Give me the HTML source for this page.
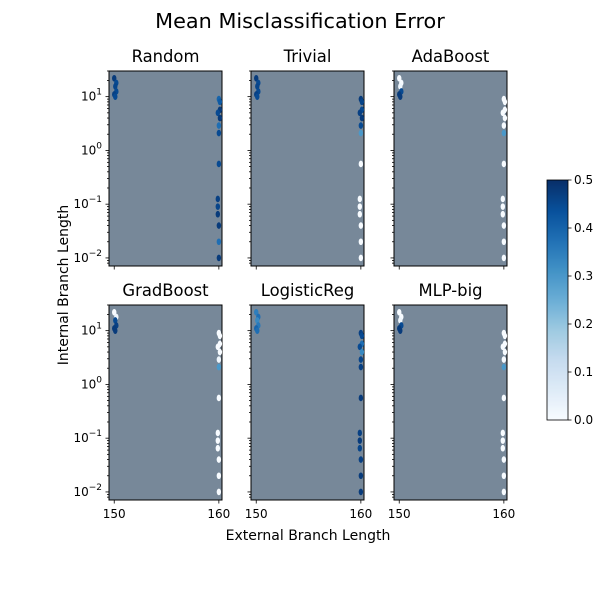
<!DOCTYPE html>
<html><head><meta charset="utf-8"><style>
body{margin:0;background:#fff;font-family:"Liberation Sans","DejaVu Sans",sans-serif}
svg text{font-family:"DejaVu Sans","Liberation Sans",sans-serif}
</style></head><body>
<svg id="c" width="600" height="600" xmlns="http://www.w3.org/2000/svg">
<text x="300" y="28" font-size="20.8" text-anchor="middle">Mean Misclassification Error</text>
<text x="308" y="540" font-size="14" text-anchor="middle">External Branch Length</text>
<text transform="translate(68,285) rotate(-90)" font-size="14" text-anchor="middle">Internal Branch Length</text>
<g id="panels"></g>
<g id="cbar"></g>
</svg>
<script>
const titles=["Random","Trivial","AdaBoost","GradBoost","LogisticReg","MLP-big"];
const leftX=[150.0,150.2,150.1,150.2,150.0,150.1];
const leftY=[22,18,15.5,12.5,11,10];
const rightX=[160.0,160.1,160.1,159.9,160.1,160.0,160.0,160.0,159.9,159.9,159.9,160.0,160.0,160.0];
const rightY=[9,8,5.7,5,4,2.9,2.1,0.56,0.125,0.09,0.065,0.04,0.02,0.01];
const errRandom=[0.48,0.45,0.46,0.45,0.47,0.45,0.4,0.42,0.48,0.45,0.48,0.38,0.45,0.45,0.47,0.46,0.48,0.48,0.38,0.48,0.4,0.25,0.48,0.48];
const errTrivial=[0.48,0.45,0.46,0.45,0.47,0.45,0.48,0.46,0.45,0.47,0.48,0.45,0.3,0,0,0,0,0,0,0];
const errAda=[0,0,0.02,0.45,0.48,0.48,0,0,0,0,0,0,0.3,0,0,0,0,0,0,0];
const errGrad=[0,0.02,0.45,0.47,0.48,0.48,0,0,0,0,0,0.02,0.3,0,0,0,0,0,0,0];
const errLog=[0.35,0.38,0.33,0.36,0.4,0.38,0.47,0.45,0.38,0.45,0.33,0.46,0.47,0.48,0.47,0.48,0.46,0.47,0.48,0.48];
const errMlp=[0,0,0.02,0.45,0.48,0.48,0,0,0,0,0,0,0.3,0,0,0,0,0,0,0];
const errs=[errRandom,errTrivial,errAda,errGrad,errLog,errMlp];
const yTicks=[1,0,-1,-2];
const xTicks=[150,160];
const cbTicks=[0,0.1,0.2,0.3,0.4,0.5];
const NS="http://www.w3.org/2000/svg";
const stops=["#f7fbff","#deebf7","#c6dbef","#9ecae1","#6baed6","#4292c6","#2171b5","#08519c","#08306b"];
function hex(h){return[1,3,5].map(i=>parseInt(h.substr(i,2),16));}
function blues(v){let t=Math.max(0,Math.min(1,v/0.5))*8;let i=Math.min(7,Math.floor(t)),f=t-i;let a=hex(stops[i]),b=hex(stops[i+1]);return"rgb("+a.map((c,k)=>Math.round(c+(b[k]-c)*f)).join(",")+")";}
function mk(tag,at,par){const e=document.createElementNS(NS,tag);for(const k in at)e.setAttribute(k,at[k]);par.appendChild(e);return e;}
const P=document.getElementById("panels");
const colX=[109,251,394],rowY=[71,305],W=113,H=195;
const xMin=149.5,xMax=160.3,lMax=Math.log10(30),lMin=-2.15;
titles.forEach((t,pi)=>{
 const x0=colX[pi%3],y0=rowY[Math.floor(pi/3)];
 const sx=v=>x0+(v-xMin)/(xMax-xMin)*W;
 const sy=v=>y0+(lMax-Math.log10(v))/(lMax-lMin)*H;
 const g=mk("g",{},P);
 
 
 mk("rect",{x:x0,y:y0,width:W,height:H,fill:"#778899",stroke:"#000","stroke-width":1},g);
 const tt=mk("text",{x:x0+W/2,y:y0-9,"font-size":16.4,"text-anchor":"middle"},g);tt.textContent=t;
 
 
 const xs=leftX.concat(rightX),ys=leftY.concat(rightY),e=errs[pi];
 xs.forEach((xv,i)=>{
  const el=mk("ellipse",{cx:sx(xv),cy:sy(ys[i]),rx:2.2,ry:3.3,fill:blues(e[i]!==undefined?e[i]:0)},g);
  
  
 });
 for(let d=-3;d<=1;d++)for(let m=1;m<10;m++){const l=d+Math.log10(m);if(l<lMin||l>lMax)continue;const y=y0+(lMax-l)/(lMax-lMin)*H;mk("line",{x1:x0,x2:x0-(m==1?3.5:2),y1:y,y2:y,stroke:"#000","stroke-width":0.8},g);}
 xTicks.forEach(v=>{mk("line",{x1:sx(v),x2:sx(v),y1:y0+H,y2:y0+H+3.5,stroke:"#000","stroke-width":0.8},g);
  if(pi>=3){const tx=mk("text",{x:sx(v),y:y0+H+18,"font-size":12,"text-anchor":"middle"},g);tx.textContent=v;
   
   }});
 if(pi%3==0)yTicks.forEach(l=>{const y=y0+(lMax-l)/(lMax-lMin)*H;const tx=mk("text",{x:x0-7,y:y+4,"font-size":12,"text-anchor":"end"},g);
  tx.innerHTML="10<tspan dy='-6' font-size='9'>"+(l<0?"\u2212"+(-l):l)+"</tspan>";
  
  });
});
const C=document.getElementById("cbar");


const cx=547,cy=180,cw=21,ch=240;
for(let i=0;i<120;i++){mk("rect",{x:cx,y:cy+ch-(i+1)*ch/120,width:cw,height:ch/120+0.5,fill:blues(i/119*0.5)},C);}
mk("rect",{x:cx,y:cy,width:cw,height:ch,fill:"none",stroke:"#000","stroke-width":0.8},C);
cbTicks.forEach(v=>{const y=cy+ch-v/0.5*ch;mk("line",{x1:cx+cw,x2:cx+cw+3.5,y1:y,y2:y,stroke:"#000","stroke-width":0.8},C);
 const tx=mk("text",{x:cx+cw+6,y:y+4,"font-size":12},C);tx.textContent=v.toFixed(1);
 
 });
</script>
</body></html>
